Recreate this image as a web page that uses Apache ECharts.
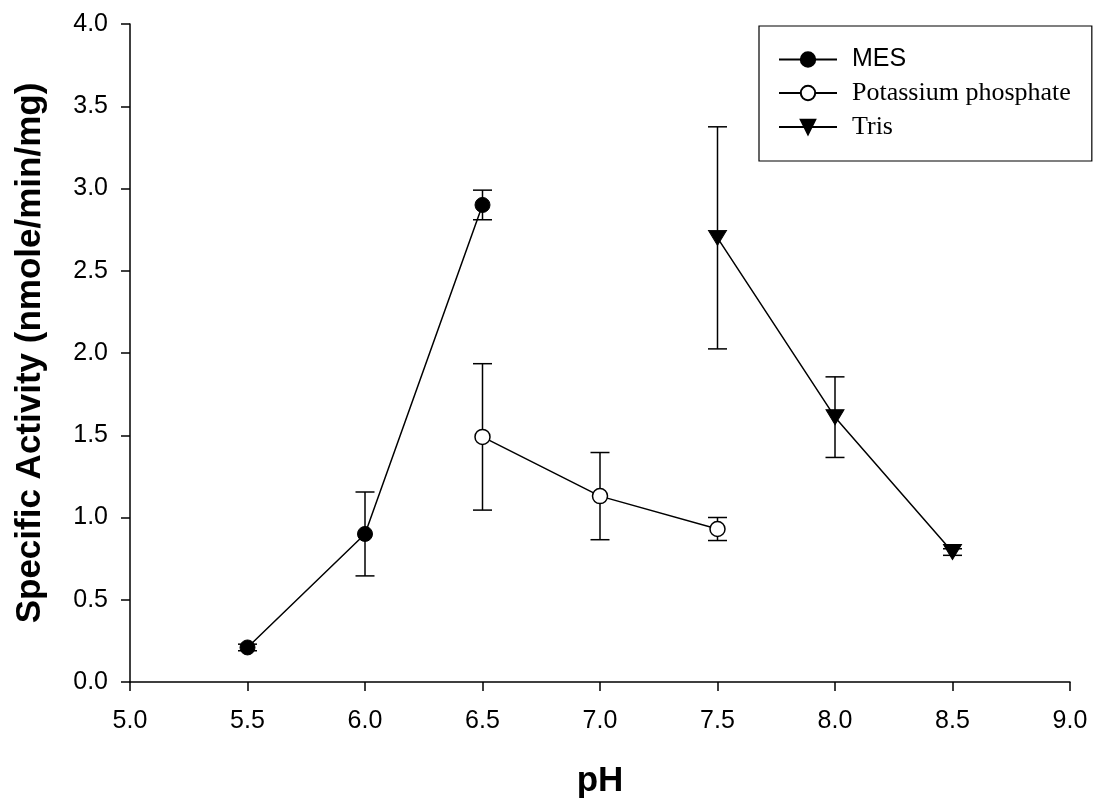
<!DOCTYPE html>
<html>
<head>
<meta charset="utf-8">
<script src="https://cdn.jsdelivr.net/npm/echarts@6/dist/echarts.min.js"></script>
<style>
html,body{margin:0;padding:0;background:#fff;}
#chart{width:1093px;height:798px;}
</style>
</head>
<body>
<div id="chart"></div>
<script>
// Data
const xTicks = ['5.0','5.5','6.0','6.5','7.0','7.5','8.0','8.5','9.0'];
const yTicks = ['0.0','0.5','1.0','1.5','2.0','2.5','3.0','3.5','4.0'];

const pH_MES = [5.5, 6.0, 6.5];
const MES = [0.21, 0.90, 2.90];
const MES_err = [0.02, 0.255, 0.09];

const pH_KP = [6.5, 7.0, 7.5];
const KP = [1.49, 1.13, 0.93];
const KP_err = [0.445, 0.265, 0.07];

const pH_Tris = [7.5, 8.0, 8.5];
const Tris = [2.70, 1.61, 0.79];
const Tris_err = [0.675, 0.245, 0.02];

const seriesNames = ['MES', 'Potassium phosphate', 'Tris'];

function pts(xs, ys) { return xs.map((x, i) => [x, ys[i]]); }
function errPts(xs, ys, es) { return xs.map((x, i) => [x, ys[i], es[i]]); }

function errorRender(params, api) {
  const x = api.value(0), y = api.value(1), e = api.value(2);
  const top = api.coord([x, y + e]);
  const bot = api.coord([x, y - e]);
  const hw = 9.5;
  const style = { stroke: '#000', lineWidth: 1.5, fill: null };
  return {
    type: 'group',
    children: [
      { type: 'line', shape: { x1: top[0], y1: top[1], x2: bot[0], y2: bot[1] }, style },
      { type: 'line', shape: { x1: top[0] - hw, y1: top[1], x2: top[0] + hw, y2: top[1] }, style },
      { type: 'line', shape: { x1: bot[0] - hw, y1: bot[1], x2: bot[0] + hw, y2: bot[1] }, style }
    ]
  };
}

const chart = echarts.init(document.getElementById('chart'), null, { renderer: 'canvas' });
const axisFont = 'Liberation Sans, Arial, sans-serif';
const lineStyle = { color: '#000', width: 1.5 };

chart.setOption({
  backgroundColor: '#fff',
  animation: false,
  grid: { left: 130, right: 23, top: 24, bottom: 116, containLabel: false, outerBoundsMode: 'none' },
  legend: {
    data: seriesNames,
    orient: 'vertical',
    left: 759,
    top: 26,
    padding: [21, 21, 21, 19],
    borderColor: '#000',
    borderWidth: 1.2,
    itemWidth: 58,
    itemHeight: 18,
    itemGap: 8,
    symbolRotate: 'inherit',
    formatter: function (name) {
      return name === 'MES' ? '{a|' + name + '}' : '{b|' + name + '}';
    },
    textStyle: {
      rich: {
        a: { fontFamily: axisFont, fontSize: 25, color: '#000', lineHeight: 26, padding: [0, 0, 0, 10] },
        b: { fontFamily: 'Liberation Serif, Times New Roman, serif', fontSize: 26, color: '#000', lineHeight: 26, padding: [0, 0, 0, 10] }
      }
    }
  },
  xAxis: {
    type: 'value',
    min: 5.0, max: 9.0, interval: 0.5,
    name: 'pH',
    nameLocation: 'middle',
    nameGap: 82,
    nameTextStyle: { fontFamily: axisFont, fontSize: 35, fontWeight: 'bold', color: '#000' },
    axisLine: { show: true, onZero: false, lineStyle: { color: '#000', width: 1.5 } },
    axisTick: { show: true, inside: false, length: 9, lineStyle: { color: '#000', width: 1.5 } },
    axisLabel: {
      color: '#000', fontFamily: axisFont, fontSize: 25, margin: 27,
      formatter: v => xTicks[Math.round((v - 5.0) / 0.5)]
    },
    splitLine: { show: false }
  },
  yAxis: {
    type: 'value',
    min: 0, max: 4.0, interval: 0.5,
    name: 'Specific Activity (nmole/min/mg)',
    nameLocation: 'middle',
    nameGap: 82,
    nameTextStyle: { fontFamily: axisFont, fontSize: 35, fontWeight: 'bold', color: '#000' },
    axisLine: { show: true, onZero: false, lineStyle: { color: '#000', width: 1.5 } },
    axisTick: { show: true, inside: false, length: 9, lineStyle: { color: '#000', width: 1.5 } },
    axisLabel: {
      color: '#000', fontFamily: axisFont, fontSize: 25, margin: 22,
      formatter: v => yTicks[Math.round(v / 0.5)]
    },
    splitLine: { show: false }
  },
  series: [
    {
      name: 'MES', type: 'line', data: pts(pH_MES, MES), z: 3,
      symbol: 'circle', symbolSize: 15,
      itemStyle: { color: '#000', borderColor: '#000', borderWidth: 1 },
      lineStyle: lineStyle
    },
    {
      name: 'Potassium phosphate', type: 'line', data: pts(pH_KP, KP), z: 3,
      symbol: 'circle', symbolSize: 15,
      itemStyle: { color: '#fff', borderColor: '#000', borderWidth: 1.5 },
      lineStyle: lineStyle
    },
    {
      name: 'Tris', type: 'line', data: pts(pH_Tris, Tris), z: 3,
      symbol: 'triangle', symbolSize: [18, 15], symbolRotate: 180,
      itemStyle: { color: '#000', borderColor: '#000', borderWidth: 1 },
      lineStyle: lineStyle
    },
    { type: 'custom', renderItem: errorRender, data: errPts(pH_MES, MES, MES_err), z: 2, encode: { x: 0, y: 1 } },
    { type: 'custom', renderItem: errorRender, data: errPts(pH_KP, KP, KP_err), z: 2, encode: { x: 0, y: 1 } },
    { type: 'custom', renderItem: errorRender, data: errPts(pH_Tris, Tris, Tris_err), z: 2, encode: { x: 0, y: 1 } }
  ]
});
</script>
</body>
</html>
